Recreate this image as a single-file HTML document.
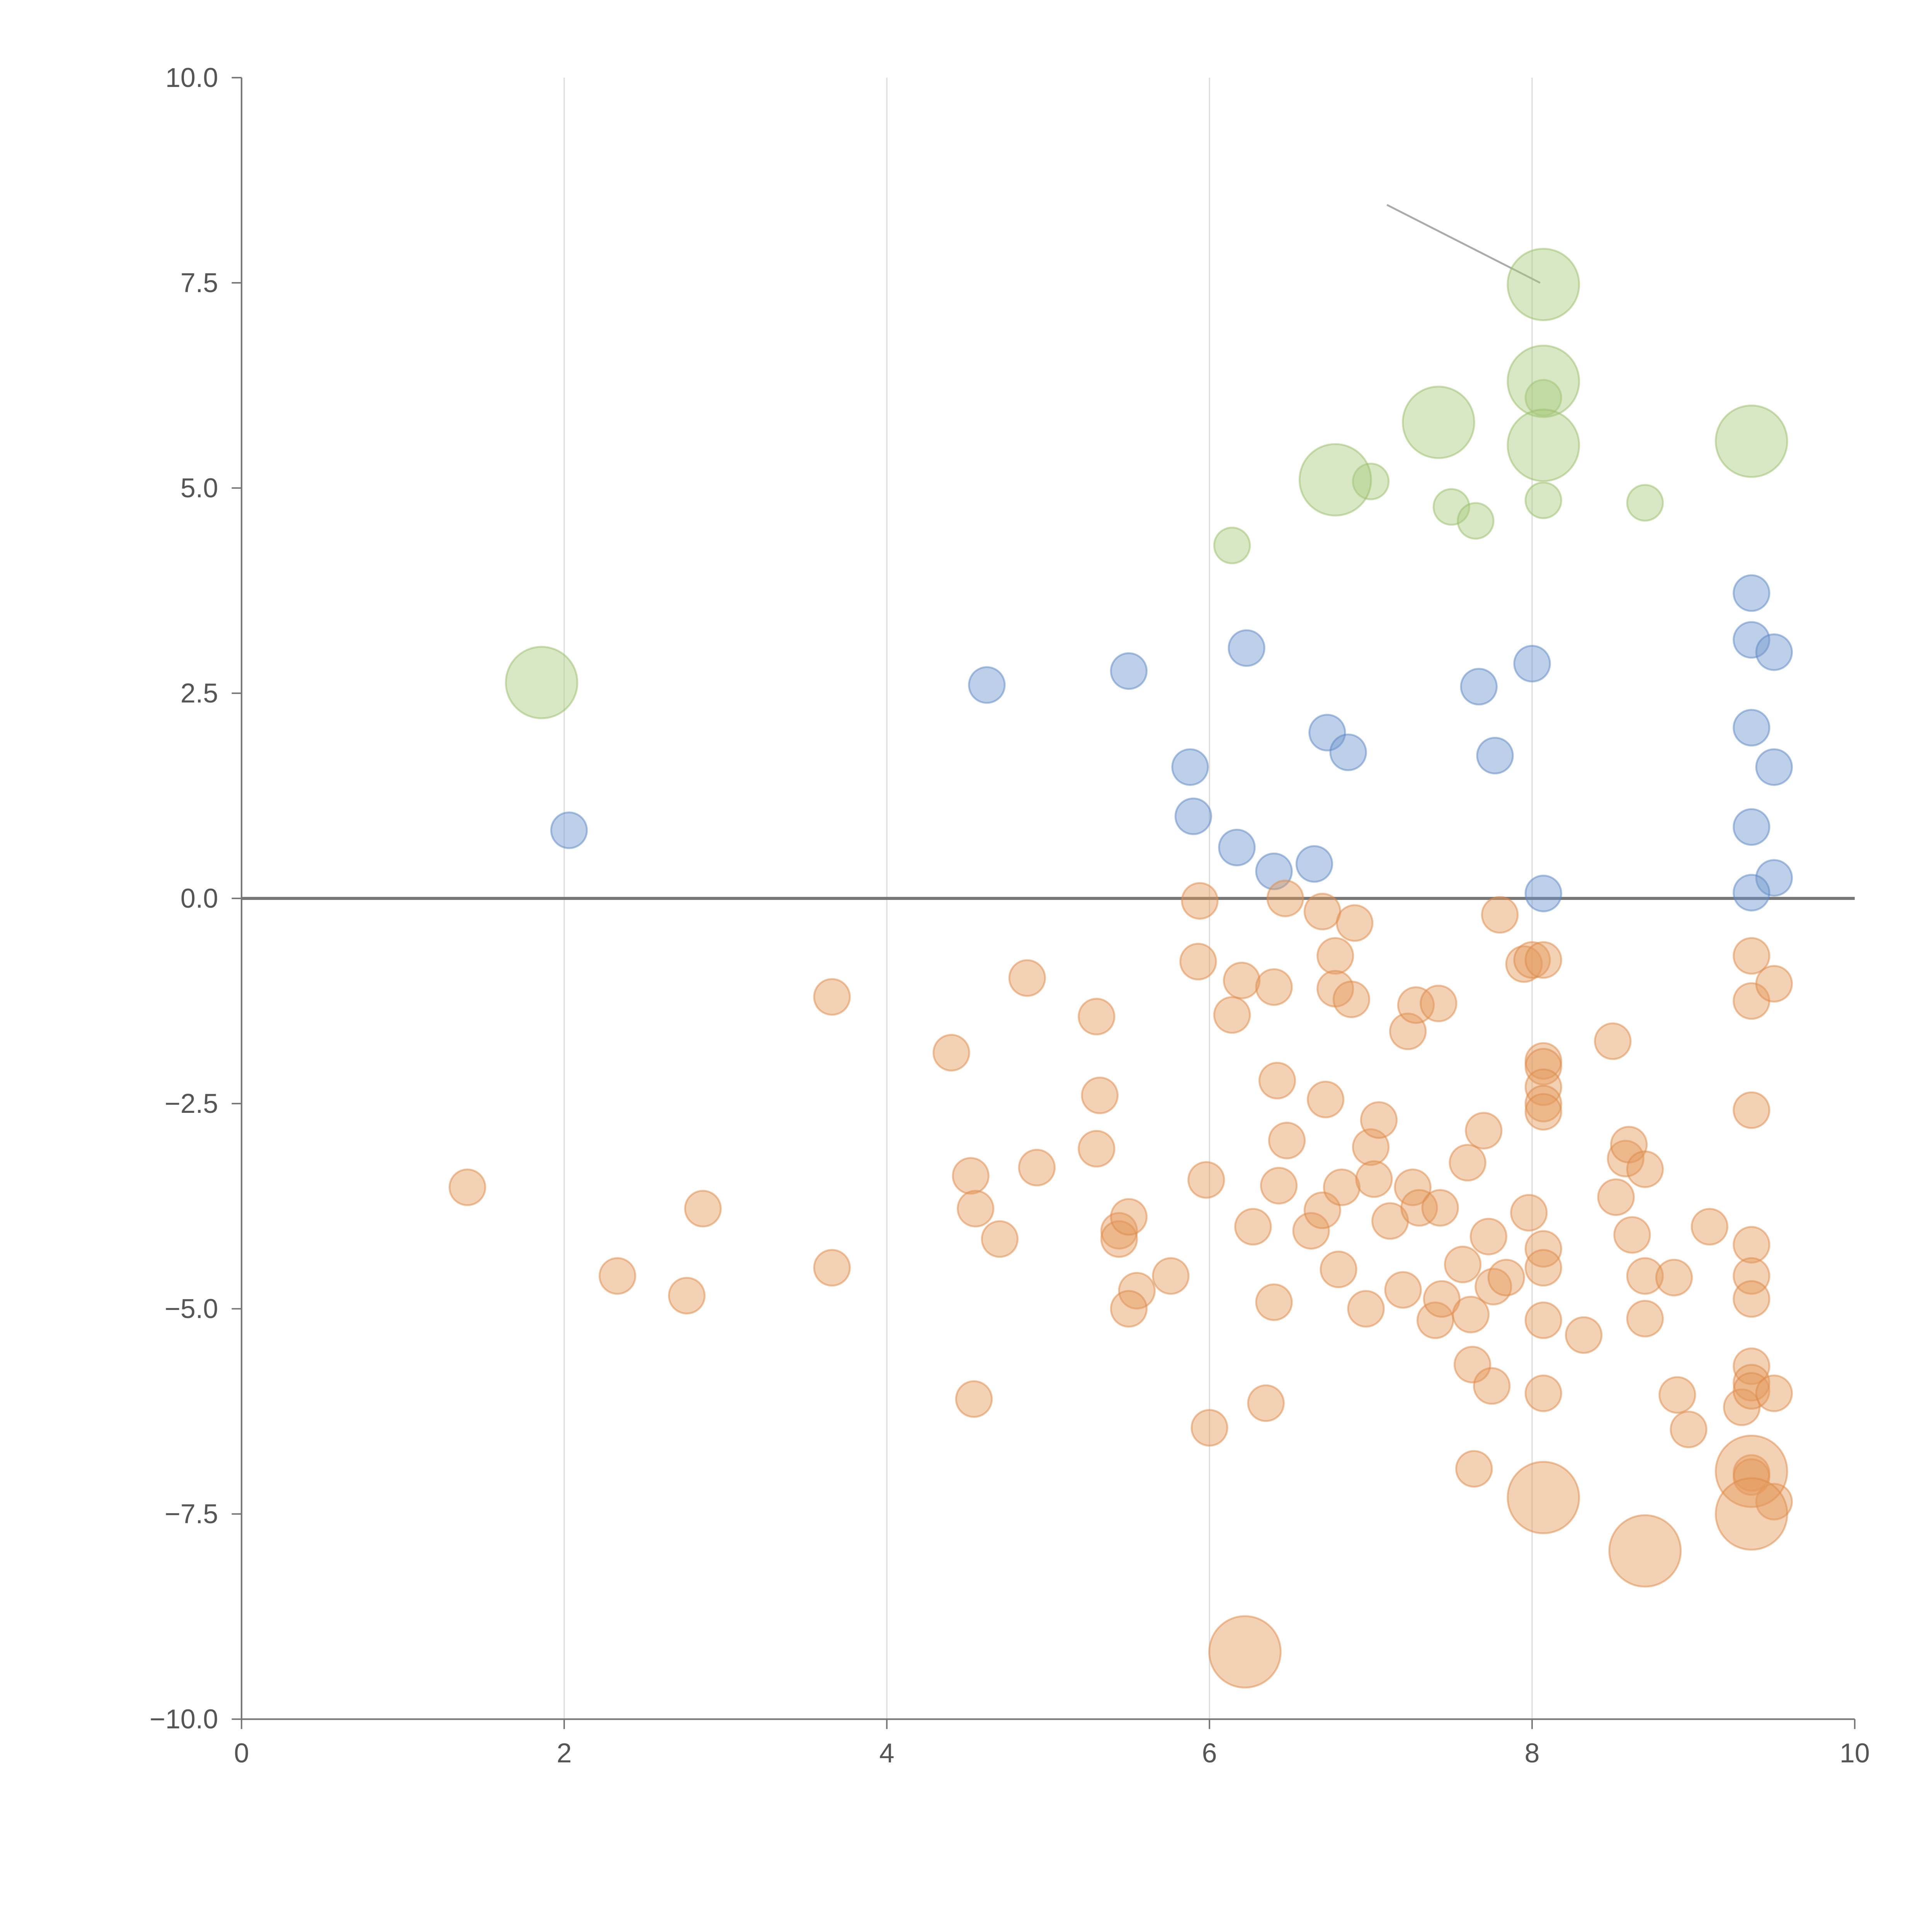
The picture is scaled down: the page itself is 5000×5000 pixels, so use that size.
<!DOCTYPE html>
<html><head><meta charset="utf-8"><style>
html,body{margin:0;padding:0;background:#fff;width:5000px;height:5000px;overflow:hidden}
svg{display:block}
text{font-family:"Liberation Sans",sans-serif;fill:#555}
</style></head><body>
<svg id="chart" width="5000" height="5000" viewBox="0 0 1567.7 1567.7" xmlns="http://www.w3.org/2000/svg">
<g id="grid"></g>
<g id="axes"></g>
<line id="annot" stroke="#aaa" stroke-width="1.5"/>
<g id="marks"></g>
</svg>
<script>
const xTicks=[0,2,4,6,8,10];
const yTicks=[10,7.5,5,2.5,0,-2.5,-5,-7.5,-10];
const blueX=[2.03,4.62,5.5,6.23,5.88,5.9,6.17,6.4,6.65,6.73,6.86,7.67,7.77,8.0,8.07,9.36,9.36,9.5,9.36,9.5,9.36,9.5,9.36];
const blueY=[0.83,2.6,2.77,3.05,1.6,1.0,0.62,0.33,0.42,2.02,1.78,2.58,1.74,2.86,0.06,3.72,3.15,3.0,2.08,1.6,0.87,0.25,0.07];
const greenX=[6.14,7.0,7.5,7.65,8.07,8.07,8.7,1.86,6.78,7.42,8.07,8.07,8.07,9.36];
const greenY=[4.3,5.08,4.77,4.6,4.85,6.1,4.82,2.63,5.1,5.8,7.48,6.3,5.52,5.57];
const greenS=[1,1,1,1,1,1,1,2,2,2,2,2,2,2];
const orangeX=[1.4,2.33,2.76,2.86,3.66,3.66,4.4,4.52,4.55,4.54,4.7,4.87,4.93,5.3,5.32,5.3,5.44,5.44,5.5,5.55,5.5,5.76,5.94,5.93,5.98,6.0,6.14,6.2,6.27,6.35,6.4,6.42,6.43,6.4,6.47,6.48,6.63,6.7,6.7,6.72,6.78,6.78,6.8,6.82,6.88,6.9,6.97,7.0,7.02,7.05,7.12,7.2,7.23,7.26,7.28,7.3,7.4,7.42,7.43,7.44,7.57,7.6,7.63,7.62,7.64,7.7,7.73,7.75,7.76,7.8,7.84,7.95,7.98,8.0,8.07,8.07,8.07,8.07,8.07,8.07,8.07,8.07,8.07,8.07,8.32,8.5,8.52,8.58,8.6,8.62,8.7,8.7,8.7,8.88,8.9,8.97,9.1,9.36,9.36,9.36,9.36,9.36,9.36,9.36,9.36,9.3,9.36,9.36,9.36,9.5,9.5,9.5,6.22,8.07,8.7,9.36,9.36];
const orangeY=[-3.52,-4.6,-4.84,-3.78,-1.2,-4.5,-1.88,-3.38,-3.78,-6.1,-4.15,-0.97,-3.28,-1.44,-2.4,-3.05,-4.05,-4.15,-3.88,-4.78,-5.0,-4.6,-0.03,-0.77,-3.43,-6.45,-1.42,-1.0,-4.0,-6.15,-1.08,-2.22,-3.5,-4.92,0.0,-2.95,-4.05,-3.8,-0.16,-2.45,-0.7,-1.1,-4.52,-3.52,-1.23,-0.3,-5.0,-3.03,-3.42,-2.7,-3.93,-4.77,-1.62,-3.52,-1.3,-3.77,-5.14,-1.28,-3.77,-4.88,-4.46,-3.22,-5.68,-5.07,-6.95,-2.83,-4.12,-5.94,-4.73,-0.2,-4.62,-0.8,-3.83,-0.75,-0.75,-1.98,-2.05,-2.3,-2.5,-2.6,-4.27,-4.5,-5.14,-6.03,-5.32,-1.74,-3.64,-3.17,-3.0,-4.1,-3.3,-4.6,-5.12,-4.62,-6.05,-6.47,-4.0,-0.7,-1.25,-2.58,-4.22,-4.6,-4.88,-5.7,-5.9,-6.2,-6.0,-7.0,-7.05,-1.04,-6.03,-7.35,-9.18,-7.3,-7.95,-6.98,-7.5];
const annotX=[7.1,8.05];
const annotY=[8.45,7.5];

const X0=196,X1=1505,Y0=1395,Y1=63;
const sx=v=>X0+(v-0)/(10-0)*(X1-X0);
const sy=v=>Y0-(v+10)/20*(Y0-Y1);
const rs=s=>s===2?29:14.5;
const NS='http://www.w3.org/2000/svg';
function mk(tag,attrs,parent){const e=document.createElementNS(NS,tag);for(const k in attrs)e.setAttribute(k,attrs[k]);parent.appendChild(e);return e;}
const grid=document.getElementById('grid'),axes=document.getElementById('axes'),marks=document.getElementById('marks');
xTicks.forEach(t=>{
  if(t>0&&t<10){const g=mk('line',{x1:sx(t),x2:sx(t),y1:Y1,y2:Y0,stroke:'#ddd','stroke-width':1},grid);
  
  }
  const tk=mk('line',{x1:sx(t),x2:sx(t),y1:Y0,y2:Y0+8,stroke:'#777','stroke-width':1.2},axes);
  
  
  const tx=mk('text',{x:sx(t),y:Y0+35,'text-anchor':'middle','font-size':22},axes);
  tx.textContent=String(t);
  
  
});
yTicks.forEach(t=>{
  const tk=mk('line',{x1:X0-8,x2:X0,y1:sy(t),y2:sy(t),stroke:'#777','stroke-width':1.2},axes);
  
  
  const tx=mk('text',{x:X0-19,y:sy(t)+7.5,'text-anchor':'end','font-size':22},axes);
  tx.textContent=(t<0?'\u2212':'')+Math.abs(t).toFixed(1);
  
  
});
const xa=mk('line',{x1:X0,x2:X1,y1:Y0,y2:Y0,stroke:'#777','stroke-width':1.3},axes);


const ya=mk('line',{x1:X0,x2:X0,y1:Y1,y2:Y0,stroke:'#777','stroke-width':1.3},axes);


const zl=mk('line',{x1:X0,x2:X1,y1:sy(0),y2:sy(0),stroke:'#777','stroke-width':2.5},axes);


const an=document.getElementById('annot');
an.setAttribute('x1',sx(annotX[0]));an.setAttribute('y1',sy(annotY[0]));
an.setAttribute('x2',sx(annotX[1]));an.setAttribute('y2',sy(annotY[1]));
function series(xs,ys,ss,fill,stroke,name){
  xs.forEach((x,i)=>{
    const c=mk('circle',{cx:sx(x),cy:sy(ys[i]),r:rs(ss?ss[i]:1),fill:fill,'fill-opacity':0.45,stroke:stroke,'stroke-opacity':0.5,'stroke-width':1.5},marks);
    
    
  });
}
series(greenX,greenY,greenS,'#a9c97c','#9abd6a','green-bubble');
series(blueX,blueY,null,'#6f97cf','#5a85c2','blue-bubble');
const orangeS=orangeX.map((_,i)=>i>=orangeX.length-5?2:1);
series(orangeX,orangeY,orangeS,'#e59a5c','#dd8a48','orange-bubble');
</script>
</body></html>
